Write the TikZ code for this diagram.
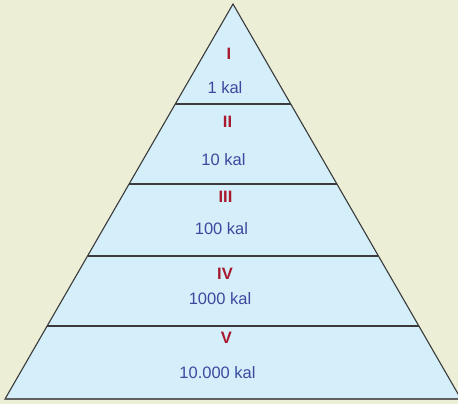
\documentclass[tikz,border=0pt]{standalone}
\usepackage{fontspec}
\setmainfont{Liberation Sans}
\definecolor{bgc}{HTML}{ECEFD6}
\definecolor{fillc}{HTML}{D4EEFA}
\definecolor{numc}{HTML}{A8192E}
\definecolor{kalc}{HTML}{3B4A9E}
\definecolor{linec}{HTML}{3A3A3A}
\begin{document}
\begin{tikzpicture}[x=1pt,y=-1pt,
  level/.style={font=\fontsize{16.5}{18}\selectfont\bfseries, text=numc, inner sep=0pt},
  amount/.style={font=\fontsize{16.5}{18}\selectfont, text=kalc, inner sep=0pt},
  divider/.style={draw=linec, line width=1.1pt},
  outline/.style={draw=linec, line width=1.1pt, fill=fillc, line join=miter}]
\useasboundingbox (0,0) rectangle (458,404);
\fill[bgc] (0,0) rectangle (458,404);
\coordinate (apex) at (233,4);
\coordinate (bl) at (5,399);
\coordinate (br) at (461,399);
\begin{scope}
\clip (0,0) rectangle (458,404);
\draw[outline] (apex) -- (bl) -- (br) -- cycle;
\draw[draw=linec!80, line width=1.6pt] (bl) -- (br);
\end{scope}
% dividers
\foreach \yy/\nm in {104/a,184/b,256/c,326/d}{
  \pgfmathsetmacro{\dx}{0.5772*(\yy-4)}
  \coordinate (l\nm) at ({233-\dx},\yy);
  \coordinate (r\nm) at ({233+\dx},\yy);
  \draw[divider] (l\nm) -- (r\nm);
}
\node[level] (n1) at (229,54) {I};
\node[amount] (k1) at (225,88) {1 kal};
\node[level] (n2) at (227.5,122) {II};
\node[amount] (k2) at (223.5,160) {10 kal};
\node[level] (n3) at (225.5,196.5) {III};
\node[amount] (k3) at (221.5,229) {100 kal};
\node[level] (n4) at (225,274) {IV};
\node[amount] (k4) at (220,298.5) {1000 kal};
\node[level] (n5) at (226.5,337.5) {V};
\node[amount] (k5) at (217.5,373) {10.000 kal};
\end{tikzpicture}
\end{document}
